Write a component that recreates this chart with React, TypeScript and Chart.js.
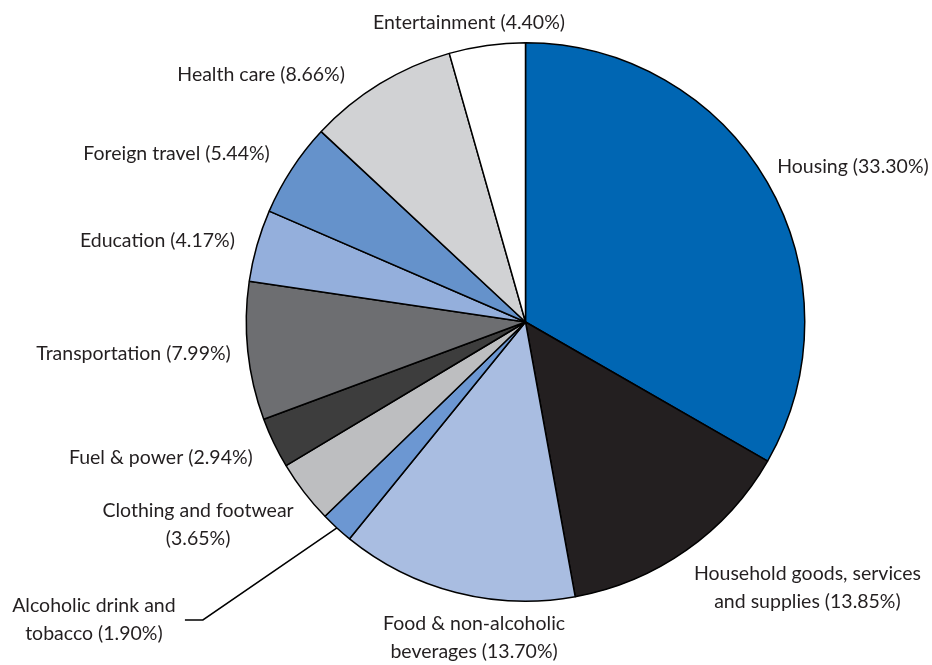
import React, { useEffect, useRef } from "react";
import { Chart, registerables } from "chart.js";

Chart.register(...registerables);

const CATEGORIES: string[][] = [
  ["Housing (33.30%)"],
  ["Household goods, services", "and supplies (13.85%)"],
  ["Food & non-alcoholic", "beverages (13.70%)"],
  ["Alcoholic drink and", "tobacco (1.90%)"],
  ["Clothing and footwear", "(3.65%)"],
  ["Fuel & power (2.94%)"],
  ["Transportation (7.99%)"],
  ["Education (4.17%)"],
  ["Foreign travel (5.44%)"],
  ["Health care (8.66%)"],
  ["Entertainment (4.40%)"],
];

const VALUES: number[] = [33.3, 13.85, 13.7, 1.9, 3.65, 2.94, 7.99, 4.17, 5.44, 8.66, 4.4];

const COLORS: string[] = [
  "#0066B3",
  "#231F20",
  "#A9BDE1",
  "#6C97D2",
  "#BDBEC0",
  "#3D3D3D",
  "#6D6E71",
  "#94AFDC",
  "#6592CB",
  "#D1D2D4",
  "#FFFFFF",
];

// label placement relative to each slice's outer mid-point: [dx, dy, align]
const LABEL_LAYOUT: [number, number, CanvasTextAlign][] = [
  [10, -15, "left"],
  [121, 24, "center"],
  [18, 31, "center"],
  [-243, 78, "center"],
  [-106, 19, "center"],
  [-21, 15, "right"],
  [-17, 3, "right"],
  [-22, -5, "right"],
  [-22, -15, "right"],
  [-35, -9, "right"],
  [-18, -23, "center"],
];
// leader line for the small slice: [index, elbowDx, elbowDy, endDx]
const LEADER: [number, number, number, number] = [3, -134, 92, -18];

const FONT = "19.5px Lato, 'Open Sans', sans-serif";
const LINE_H = 28;
const TEXT_COLOR = "#231F20";

const labelPlugin = {
  id: "sliceLabels",
  afterDraw(chart: any) {
    const ctx = chart.ctx;
    const meta = chart.getDatasetMeta(0);
    ctx.save();
    ctx.font = FONT;
    ctx.fillStyle = TEXT_COLOR;
    ctx.textBaseline = "middle";
    meta.data.forEach((arc: any, i: number) => {
      const p = arc.getProps(["x", "y", "startAngle", "endAngle", "outerRadius"], true);
      const mid = (p.startAngle + p.endAngle) / 2;
      const px = p.x + Math.cos(mid) * p.outerRadius;
      const py = p.y + Math.sin(mid) * p.outerRadius;
      const [dx, dy, align] = LABEL_LAYOUT[i];
      ctx.textAlign = align;
      CATEGORIES[i].forEach((line, j) => {
        ctx.fillText(line, px + dx, py + dy + j * LINE_H);
      });
      if (i === LEADER[0]) {
        const ex = px + LEADER[1];
        const ey = py + LEADER[2];
        ctx.beginPath();
        ctx.strokeStyle = "#000";
        ctx.lineWidth = 1.5;
        ctx.moveTo(px, py);
        ctx.lineTo(ex, ey);
        ctx.lineTo(ex + LEADER[3], ey);
        ctx.stroke();
      }
    });
    ctx.restore();
  },
};

export default function App() {
  const ref = useRef<HTMLCanvasElement | null>(null);
  useEffect(() => {
    if (!ref.current) return;
    const chart = new Chart(ref.current, {
      type: "pie",
      data: {
        labels: CATEGORIES.map((c) => c.join(" ")),
        datasets: [
          {
            data: VALUES,
            backgroundColor: COLORS,
            borderColor: "#000000",
            borderWidth: 1.5,
            hoverOffset: 0,
          },
        ],
      },
      options: {
        animation: false,
        responsive: false,
        maintainAspectRatio: false,
        layout: { padding: { top: 42, bottom: 63, left: 245, right: 126 } },
        plugins: {
          legend: { display: false },
          tooltip: { enabled: false },
        },
      },
      plugins: [labelPlugin],
    });
    return () => chart.destroy();
  }, []);
  return (
    <div style={{ position: "fixed", left: 0, top: 0, width: 932, height: 665, background: "#fff" }}>
      <canvas ref={ref} width={932} height={665} style={{ width: 932, height: 665, display: "block" }} />
    </div>
  );
}
